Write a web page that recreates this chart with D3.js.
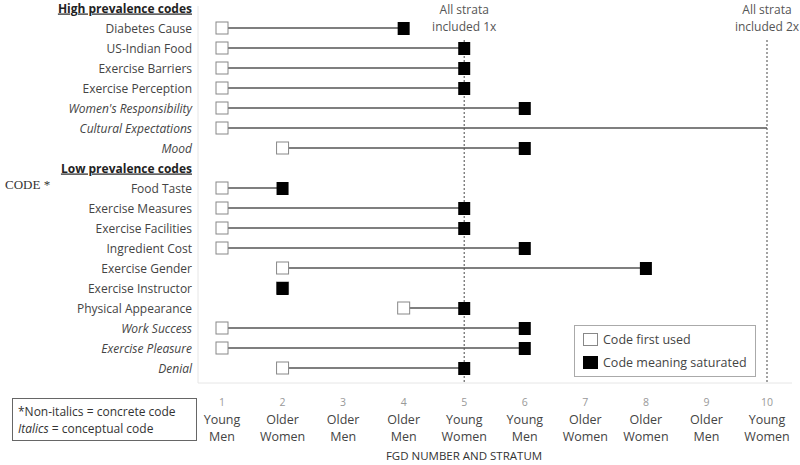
<!DOCTYPE html>
<html>
<head>
<meta charset="utf-8">
<script src="https://cdn.jsdelivr.net/npm/d3@7"></script>
<style>
  body { margin: 0; background: #fff; }
  svg { font-family: "Open Sans", Lato, sans-serif; }
</style>
</head>
<body>
<svg width="800" height="465"></svg>
<script>
// rows, top to bottom (two section headers)
const codes = [
  "High prevalence codes",
  "Diabetes Cause", "US-Indian Food", "Exercise Barriers", "Exercise Perception",
  "Women's Responsibility", "Cultural Expectations", "Mood",
  "Low prevalence codes",
  "Food Taste", "Exercise Measures", "Exercise Facilities", "Ingredient Cost",
  "Exercise Gender", "Exercise Instructor", "Physical Appearance",
  "Work Success", "Exercise Pleasure", "Denial"
];
const headers = ["High prevalence codes", "Low prevalence codes"];
const italicCodes = ["Women's Responsibility", "Cultural Expectations", "Mood",
  "Work Success", "Exercise Pleasure", "Denial"];

// FGD where code was first used / where meaning saturated (null = not saturated)
const firstUsed = {
  "Diabetes Cause": 1, "US-Indian Food": 1, "Exercise Barriers": 1, "Exercise Perception": 1,
  "Women's Responsibility": 1, "Cultural Expectations": 1, "Mood": 2,
  "Food Taste": 1, "Exercise Measures": 1, "Exercise Facilities": 1, "Ingredient Cost": 1,
  "Exercise Gender": 2, "Exercise Instructor": 2, "Physical Appearance": 4,
  "Work Success": 1, "Exercise Pleasure": 1, "Denial": 2
};
const saturated = {
  "Diabetes Cause": 4, "US-Indian Food": 5, "Exercise Barriers": 5, "Exercise Perception": 5,
  "Women's Responsibility": 6, "Cultural Expectations": null, "Mood": 6,
  "Food Taste": 2, "Exercise Measures": 5, "Exercise Facilities": 5, "Ingredient Cost": 6,
  "Exercise Gender": 8, "Exercise Instructor": 2, "Physical Appearance": 5,
  "Work Success": 6, "Exercise Pleasure": 6, "Denial": 5
};

const fgdNumbers = [1, 2, 3, 4, 5, 6, 7, 8, 9, 10];
const strata = ["Young Men", "Older Women", "Older Men", "Older Men", "Young Women",
  "Young Men", "Older Women", "Older Women", "Older Men", "Young Women"];
const refLines = [{fgd: 5, label: ["All strata", "included 1x"]},
                  {fgd: 10, label: ["All strata", "included 2x"]}];

const svg = d3.select("svg");

const x = d3.scaleLinear().domain([1, 10]).range([222, 767]);
const y = d3.scalePoint().domain(codes).range([8, 368]);

// faint frame
svg.append("line").attr("x1", 198).attr("x2", 198).attr("y1", 6).attr("y2", 383)
  .attr("stroke", "#e6e6e6");
svg.append("line").attr("x1", 198).attr("x2", 792).attr("y1", 383).attr("y2", 383)
  .attr("stroke", "#e6e6e6");

// reference dashed lines
refLines.forEach(r => {
  svg.append("line")
    .attr("x1", x(r.fgd)).attr("x2", x(r.fgd))
    .attr("y1", 40).attr("y2", 384)
    .attr("stroke", "#666").attr("stroke-width", 1.2)
    .attr("stroke-dasharray", "2,2");
  svg.append("text")
    .attr("x", x(r.fgd)).attr("y", 14)
    .attr("text-anchor", "middle").attr("font-size", 12).attr("fill", "#555")
    .selectAll("tspan").data(r.label).join("tspan")
    .attr("x", x(r.fgd)).attr("dy", (d, i) => i ? 17 : 0)
    .text(d => d);
});

// row labels
const labelX = 192;
svg.append("g").selectAll("text").data(codes).join("text")
  .attr("x", labelX).attr("y", d => y(d) + 4.5)
  .attr("text-anchor", "end")
  .attr("font-size", 12)
  .attr("fill", d => headers.includes(d) ? "#222" : "#444")
  .attr("font-weight", d => headers.includes(d) ? "bold" : null)
  .attr("text-decoration", d => headers.includes(d) ? "underline" : null)
  .attr("font-style", d => italicCodes.includes(d) ? "italic" : null)
  .text(d => d);

svg.append("text").attr("x", 5).attr("y", 189)
  .attr("font-family", "'Liberation Serif', 'DejaVu Serif', serif")
  .attr("font-size", 13).attr("fill", "#333")
  .text("CODE *");

// rows of marks
const rows = codes.filter(c => !headers.includes(c));
const sq = 12;

svg.append("g").selectAll("line").data(rows).join("line")
  .attr("x1", d => x(firstUsed[d]))
  .attr("x2", d => x(saturated[d] === null ? 10 : saturated[d]))
  .attr("y1", d => y(d)).attr("y2", d => y(d))
  .attr("stroke", "#555").attr("stroke-width", 1.6);

svg.append("g").selectAll("rect").data(rows).join("rect")
  .attr("x", d => x(firstUsed[d]) - sq / 2)
  .attr("y", d => y(d) - sq / 2)
  .attr("width", sq).attr("height", sq)
  .attr("fill", "#fff").attr("stroke", "#888").attr("stroke-width", 1);

svg.append("g").selectAll("rect").data(rows.filter(d => saturated[d] !== null)).join("rect")
  .attr("x", d => x(saturated[d]) - sq / 2)
  .attr("y", d => y(d) - sq / 2)
  .attr("width", sq).attr("height", sq + 1)
  .attr("fill", "#000");

// x axis labels
const xl = svg.append("g").selectAll("g").data(fgdNumbers).join("g")
  .attr("transform", d => `translate(${x(d)},0)`);
xl.append("text").attr("y", 406).attr("text-anchor", "middle")
  .attr("font-size", 10.5).attr("fill", "#999").text(d => d);
xl.append("text").attr("y", 424).attr("text-anchor", "middle")
  .attr("font-size", 12.5).attr("fill", "#444").text((d, i) => strata[i].split(" ")[0]);
xl.append("text").attr("y", 441).attr("text-anchor", "middle")
  .attr("font-size", 12.5).attr("fill", "#444").text((d, i) => strata[i].split(" ")[1]);

svg.append("text").attr("x", 464).attr("y", 460).attr("text-anchor", "middle")
  .attr("font-size", 11.5).attr("fill", "#333").text("FGD NUMBER AND STRATUM");

// legend
const lg = svg.append("g");
lg.append("rect").attr("x", 574.5).attr("y", 325.5).attr("width", 181).attr("height", 51)
  .attr("fill", "#fff").attr("stroke", "#aaa");
lg.append("rect").attr("x", 583.5).attr("y", 333.5).attr("width", 14).attr("height", 12)
  .attr("fill", "#fff").attr("stroke", "#888");
lg.append("rect").attr("x", 583).attr("y", 356).attr("width", 15).attr("height", 13)
  .attr("fill", "#000");
lg.append("text").attr("x", 603).attr("y", 344).attr("font-size", 12.5).attr("fill", "#444")
  .text("Code first used");
lg.append("text").attr("x", 603).attr("y", 367).attr("font-size", 12.5).attr("fill", "#444")
  .text("Code meaning saturated");

// note box
const nb = svg.append("g");
nb.append("rect").attr("x", 12.5).attr("y", 398.5).attr("width", 184).attr("height", 42)
  .attr("fill", "#fff").attr("stroke", "#666");
nb.append("text").attr("x", 18).attr("y", 416).attr("font-size", 12).attr("fill", "#333")
  .text("*Non-italics = concrete code");
const t2 = nb.append("text").attr("x", 18).attr("y", 433).attr("font-size", 12).attr("fill", "#333");
t2.append("tspan").attr("font-style", "italic").text("Italics");
t2.append("tspan").text(" = conceptual code");
</script>
</body>
</html>
